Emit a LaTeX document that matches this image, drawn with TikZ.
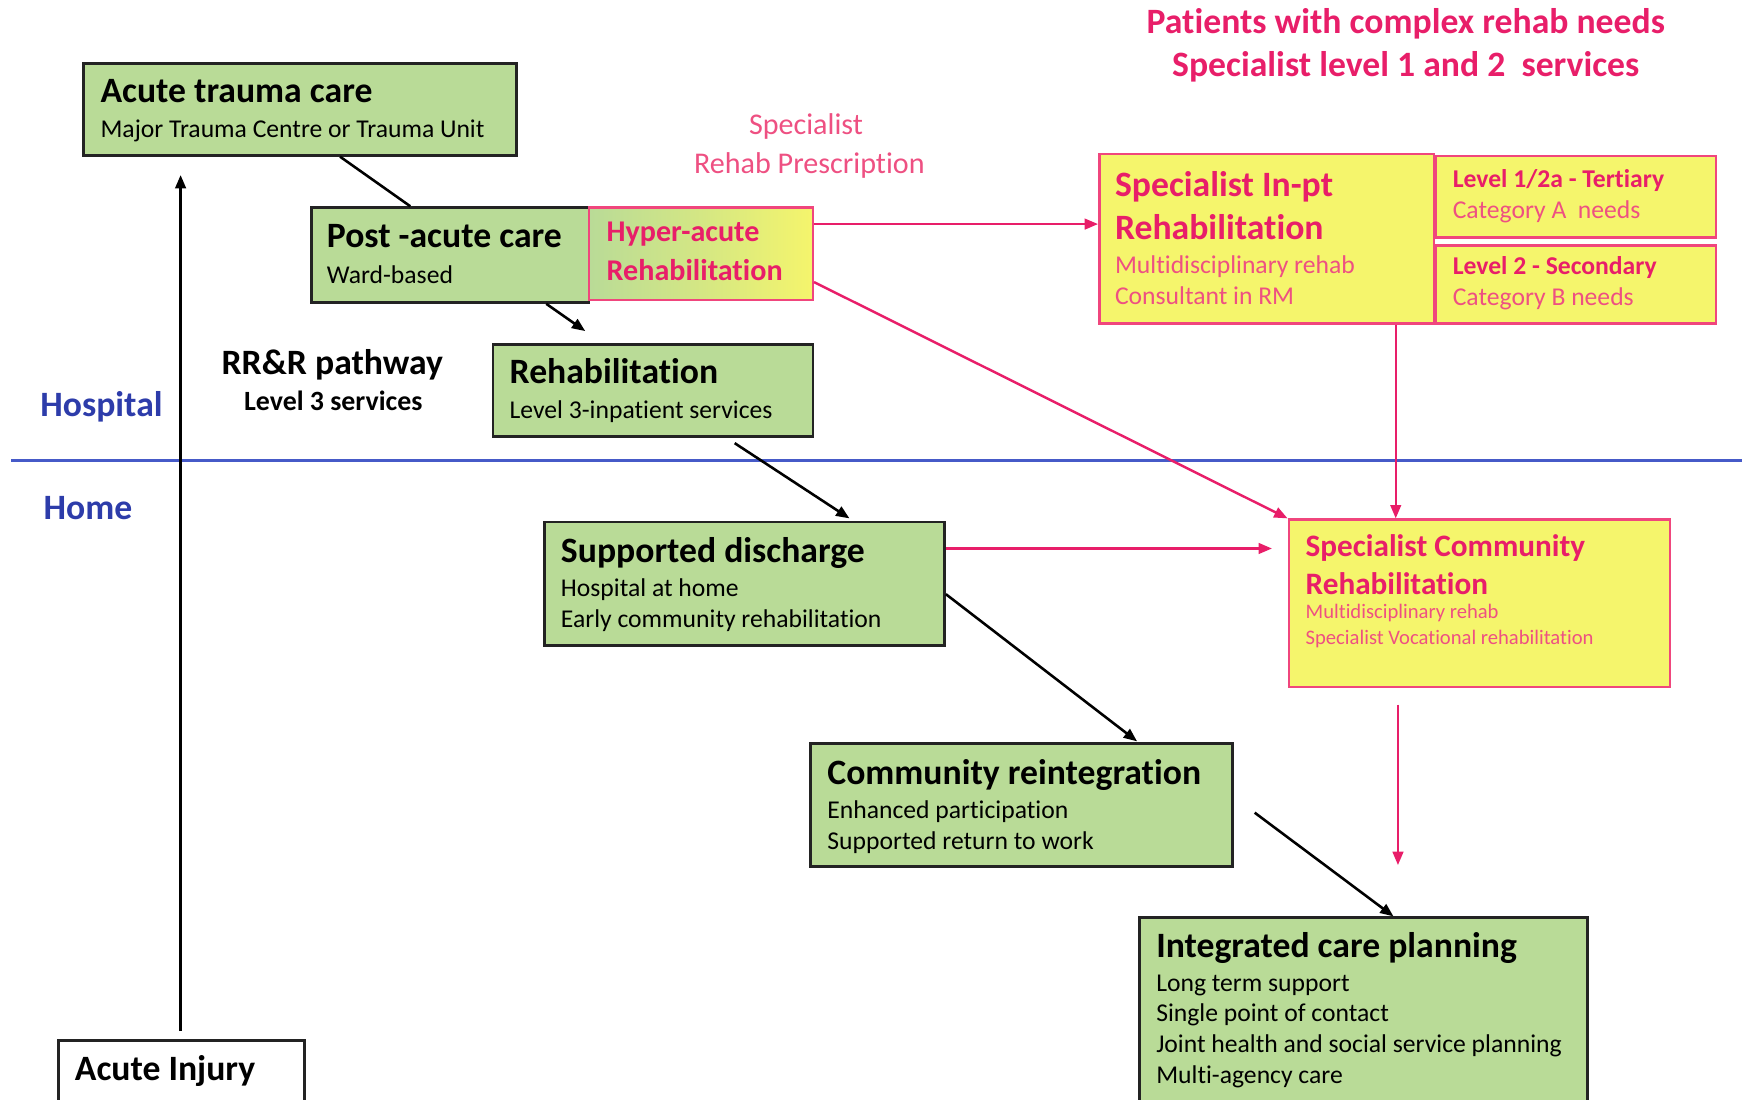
\documentclass[tikz,border=0pt]{standalone}
\usepackage{fontspec}
\setmainfont{Carlito}[Ligatures=NoCommon]
\usetikzlibrary{arrows.meta,calc}
\definecolor{boxgreen}{RGB}{185,219,151}
\definecolor{boxyellow}{RGB}{245,245,108}
\definecolor{hotpink}{RGB}{232,30,105}
\definecolor{softpink}{RGB}{238,80,130}
\definecolor{edgepink}{RGB}{240,70,125}
\definecolor{navy}{RGB}{45,60,170}
\definecolor{lineblue}{RGB}{70,90,200}
\definecolor{edgedark}{RGB}{35,35,35}
\begin{document}
\begin{tikzpicture}[x=1pt,y=-1pt,
 gbox/.style={draw=edgedark, line width=2.5pt, fill=boxgreen, rectangle, inner sep=0, anchor=north west},
 ybox/.style={draw=edgepink, line width=2.2pt, fill=boxyellow, rectangle, inner sep=0, anchor=north west},
 ttl/.style={font=\bfseries\fontsize{32}{38}\selectfont, anchor=base west, inner sep=0},
 sub/.style={font=\fontsize{23}{28}\selectfont, anchor=base west, inner sep=0},
 blk/.style={line width=2.3pt, draw=black},
 pnk/.style={line width=2.2pt, draw=hotpink},
 tip/.style={-{Triangle[length=12pt,width=9.5pt]}},
]
\path[use as bounding box] (0,0) rectangle (1568,986);
\clip (0,0) rectangle (1568,986);

% divider
\coordinate (hl) at (10,413);
\coordinate (hr) at (1563,413);
\draw[lineblue, line width=2pt] (hl) -- (hr);
\node[ttl, text=navy] (hosp) at (36,374) {Hospital};
\node[ttl, text=navy] (home) at (39,466) {Home};

% header
\node[font=\bfseries\fontsize{32}{38}\selectfont, text=hotpink, anchor=base, inner sep=0] (hdr1) at (1261,30) {Patients with complex rehab needs};
\node[font=\bfseries\fontsize{32}{38}\selectfont, text=hotpink, anchor=base, inner sep=0] (hdr2) at (1261,69) {Specialist level 1 and 2\ \ services};
\node[font=\fontsize{27}{32}\selectfont, text=softpink, anchor=base, inner sep=0] (presc1) at (723,121) {Specialist};
\node[font=\fontsize{27}{32}\selectfont, text=softpink, anchor=base, inner sep=0] (presc2) at (726,156) {Rehab Prescription};

% RR&R
\node[ttl, anchor=base] (rrr1) at (298,336) {RR\&R pathway};
\node[font=\bfseries\fontsize{25}{30}\selectfont, anchor=base, inner sep=0] (rrr2) at (299,368) {Level 3 services};

% green boxes
\node[gbox, minimum width=388pt, minimum height=82pt] (atc) at (74,56) {};
\node[ttl] (atct) at (90,92) {Acute trauma care};
\node[sub] (atcs) at (90,123) {Major Trauma Centre or Trauma Unit};

\node[gbox, minimum width=249pt, minimum height=85pt] (pac) at (278,185) {};
\node[ttl] (pact) at (293,222) {Post -acute care};
\node[sub] (pacs) at (293,254) {Ward-based};

\node[draw=edgepink, line width=2.2pt, left color=boxgreen, right color=boxyellow, middle color=boxgreen!55!boxyellow, rectangle, inner sep=0, anchor=north west, minimum width=201pt, minimum height=83pt] (hyp) at (527,185) {};
\node[font=\bfseries\fontsize{27}{32}\selectfont, text=hotpink, anchor=base west, inner sep=0] (hyp1) at (544,217) {Hyper-acute};
\node[font=\bfseries\fontsize{27}{32}\selectfont, text=hotpink, anchor=base west, inner sep=0] (hyp2) at (544,252) {Rehabilitation};

\node[gbox, minimum width=287pt, minimum height=82pt] (reh) at (441,308) {};
\node[ttl] (reht) at (457,344) {Rehabilitation};
\node[sub] (rehs) at (457,375) {Level 3-inpatient services};

\node[gbox, minimum width=359pt, minimum height=111pt] (sd) at (487,467) {};
\node[ttl] (sdt) at (503,505) {Supported discharge};
\node[sub] (sds1) at (503,535) {Hospital at home};
\node[sub] (sds2) at (503,563) {Early community rehabilitation};

\node[gbox, minimum width=378pt, minimum height=110pt] (cri) at (726,666) {};
\node[ttl] (crit) at (742,704) {Community reintegration};
\node[sub] (cris1) at (742,734) {Enhanced participation};
\node[sub] (cris2) at (742,762) {Supported return to work};

\node[gbox, minimum width=402pt, minimum height=200pt] (icp) at (1021,822) {};
\node[ttl] (icpt) at (1037,859) {Integrated care planning};
\node[sub] (icps1) at (1037,889) {Long term support};
\node[sub] (icps2) at (1037,916) {Single point of contact};
\node[sub] (icps3) at (1037,944) {Joint health and social service planning};
\node[sub] (icps4) at (1037,972) {Multi-agency care};

\node[draw=edgedark, line width=2.5pt, fill=white, rectangle, inner sep=0, anchor=north west, minimum width=221pt, minimum height=100pt] (ai) at (51,932) {};
\node[ttl] (ait) at (67,969) {Acute Injury};

% yellow boxes
\node[ybox, minimum width=300pt, minimum height=152pt] (inpt) at (985,137) {};
\node[ttl, text=hotpink] (inpt1) at (1000,176) {Specialist In-pt};
\node[ttl, text=hotpink] (inpt2) at (1000,215) {Rehabilitation};
\node[sub, text=softpink] (inpt3) at (1000,245) {Multidisciplinary rehab};
\node[sub, text=softpink] (inpt4) at (1000,273) {Consultant in RM};

\node[ybox, minimum width=251pt, minimum height=73pt] (lva) at (1287,139) {};
\node[sub, font=\bfseries\fontsize{23}{28}\selectfont, text=hotpink] (lva1) at (1303,168) {Level 1/2a - Tertiary};
\node[sub, text=softpink] (lva2) at (1303,196) {Category A\ \ needs};

\node[ybox, minimum width=251pt, minimum height=70pt] (lvb) at (1287,219) {};
\node[sub, font=\bfseries\fontsize{23}{28}\selectfont, text=hotpink] (lvb1) at (1303,246) {Level 2 - Secondary};
\node[sub, text=softpink] (lvb2) at (1303,274) {Category B needs};

\node[ybox, minimum width=342pt, minimum height=150pt] (scr) at (1155,465) {};
\node[font=\bfseries\fontsize{28}{33}\selectfont, text=hotpink, anchor=base west, inner sep=0] (scr1) at (1171,499) {Specialist Community};
\node[font=\bfseries\fontsize{28}{33}\selectfont, text=hotpink, anchor=base west, inner sep=0] (scr2) at (1171,533) {Rehabilitation};
\node[font=\fontsize{18.5}{22}\selectfont, text=softpink, anchor=base west, inner sep=0] (scr3) at (1171,555) {Multidisciplinary rehab};
\node[font=\fontsize{18.5}{22}\selectfont, text=softpink, anchor=base west, inner sep=0] (scr4) at (1171,578) {Specialist Vocational rehabilitation};

% black connectors
\coordinate (uptop) at (162,157);
\draw[blk, tip] ($(ai.north west)+(111,-7)$) -- (uptop);
\draw[blk] ($(atc.south west)+(231,0)$) -- ($(pac.north west)+(90,0)$);
\coordinate (pacend) at (525,297);
\draw[blk, tip] ($(pac.south west)+(212,0)$) -- (pacend);
\draw[blk, tip] ($(reh.south west)+(218,5)$) -- ($(sd.north west)+(275,-2)$);
\draw[blk, tip] ($(sd.north east)+(0,66)$) -- ($(cri.north west)+(294,-1)$);
\draw[blk, tip] ($(cri.north east)+(19,63)$) -- ($(icp.north west)+(229,0)$);

% pink connectors
\draw[pnk, tip] ($(hyp.north east)+(0,16)$) -- ($(inpt.north west)+(0,64)$);
\draw[pnk, tip] ($(hyp.north east)+(0,68)$) -- (scr.north west);
\draw[pnk, tip] ($(inpt.south west)+(267,0)$) -- ($(scr.north west)+(97,0)$);
\draw[pnk, tip] ($(sd.north east)+(0,25)$) -- ($(scr.north west)+(-14,27)$);
\coordinate (pkd1) at (1254,632);
\coordinate (pkd2) at (1254,776);
\draw[pnk, tip] (pkd1) -- (pkd2);
\end{tikzpicture}
\end{document}
